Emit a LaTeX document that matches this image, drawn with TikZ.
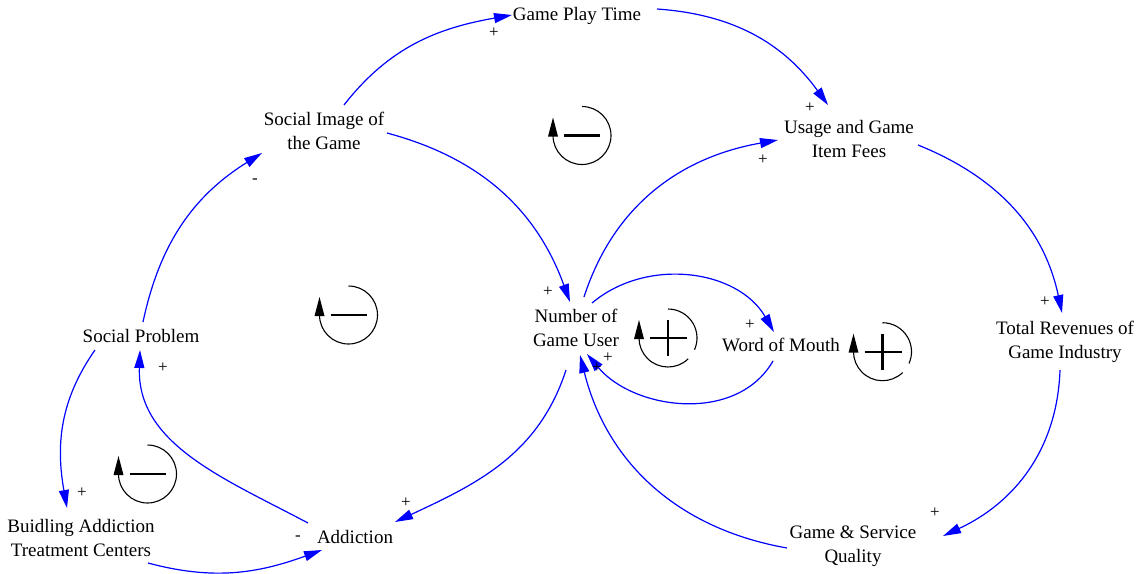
\documentclass[tikz,border=0pt]{standalone}
\usepackage{fontspec}
\setmainfont{Liberation Serif}
\usetikzlibrary{arrows.meta}
\begin{document}
\begin{tikzpicture}[x=1pt,y=1pt,
  var/.style={font=\fontsize{19}{24.5}\selectfont, align=center, inner sep=0pt},
  lnk/.style={blue, line width=1.2pt, -{Triangle[length=18pt,width=10pt]}},
  sgn/.style={font=\fontsize{17}{17}\selectfont, inner sep=0pt},
  loopc/.style={black, line width=1.1pt},
  negloop/.pic={
    \draw[loopc] (0,29) arc[start angle=90,end angle=-180,radius=29];
    \fill (-29,18) -- (-34,-1) -- (-24,-1) -- cycle;
    \draw[line width=2.2pt] (-18,0) -- (18,0);
  },
  posloop/.pic={
    \draw[loopc] (0,29) arc[start angle=90,end angle=-24,radius=29];
    \draw[loopc] (-46:29) arc[start angle=-46,end angle=-180,radius=29];
    \fill (-29,18) -- (-34,-1) -- (-24,-1) -- cycle;
    \draw[line width=2.2pt] (-18,0) -- (19,0);
    \draw[line width=2.2pt] (0,-18) -- (0,18);
  }
]
\useasboundingbox[fill=white] (0,0) rectangle (1143,-573);

% variables
\node[var] (gpt) at (577,-16) {Game Play Time};
\node[var] (img) at (324,-131) {Social Image of\\the Game};
\node[var] (use) at (849,-139) {Usage and Game\\Item Fees};
\node[var] (num) at (576,-328) {Number of\\Game User};
\node[var] (wom) at (781,-345) {Word of Mouth};
\node[var] (rev) at (1065,-342) {Total Revenues of\\Game Industry};
\node[var] (sp)  at (141,-336) {Social Problem};
\node[var] (bld) at (81,-538) {Buidling Addiction\\Treatment Centers};
\node[var] (add) at (355,-537) {Addiction};
\node[var] (gsq) at (853,-546) {Game \& Service\\Quality};

% links
\draw[lnk] ([shift={(20,26)}]img.center) to[out=52,in=190] ([shift={(-65,1)}]gpt.center);
\draw[lnk] ([shift={(80,7)}]gpt.center) to[out=-4,in=126] ([shift={(-21,34)}]use.center);
\draw[lnk] ([shift={(63,-2)}]img.center) to[out=-15,in=110] ([shift={(-6,26)}]num.center);
\draw[lnk] ([shift={(8,31)}]num.center) to[out=72,in=190] ([shift={(-71,-1)}]use.center);
\draw[lnk] ([shift={(69,-6)}]use.center) to[out=-22,in=102] ([shift={(-3,29)}]rev.center);
\draw[lnk] ([shift={(-5,-28)}]rev.center) to[out=-92,in=25] ([shift={(90,10)}]gsq.center);
\draw[lnk] ([shift={(-66,-2)}]gsq.center) to[out=170,in=-76] ([shift={(4,-27)}]num.center);
\draw[lnk] ([shift={(-10,-42)}]num.center) to[out=-108,in=25] ([shift={(40,15)}]add.center);
\draw[lnk] ([shift={(-47,14)}]add.center) to[out=152,in=-92] ([shift={(-1,-14)}]sp.center);
\draw[lnk] ([shift={(2,14)}]sp.center) to[out=78,in=212] ([shift={(-62,-22)}]img.center);
\draw[lnk] ([shift={(-46,-14)}]sp.center) to[out=-125,in=100] ([shift={(-14,30)}]bld.center);
\draw[lnk] ([shift={(67,-25)}]bld.center) to[out=-15,in=200] ([shift={(-33,-13)}]add.center);
\draw[lnk] ([shift={(16,25)}]num.center) to[out=40,in=120] ([shift={(-7,13)}]wom.center);
\draw[lnk] ([shift={(-8,-16)}]wom.center) to[out=-120,in=-50] ([shift={(11,-26)}]num.center);

% polarity signs
\node[sgn] (s1)  at (494,-33) {+};
\node[sgn] (s2)  at (810,-108) {+};
\node[sgn] (s3)  at (548,-292) {+};
\node[sgn] (s4)  at (763,-160) {+};
\node[sgn] (s5)  at (1045,-302) {+};
\node[sgn] (s6)  at (935,-513) {+};
\node[sgn] (s7)  at (597,-368) {+};
\node[sgn] (s8)  at (406,-503) {+};
\node[sgn] (s9)  at (163,-368) {+};
\node[sgn] (s10) at (255,-181) {-};
\node[sgn] (s11) at (82,-493) {+};
\node[sgn] (s12) at (298,-538) {-};
\node[sgn] (s13) at (750,-325) {+};
\node[sgn] (s14) at (608,-358) {+};

% loop symbols
\pic at (582,-135.5) {negloop};
\pic at (348.5,-315) {negloop};
\pic at (147.5,-474) {negloop};
\pic at (668,-338) {posloop};
\pic at (882.5,-351.7) {posloop};
\end{tikzpicture}
\end{document}
